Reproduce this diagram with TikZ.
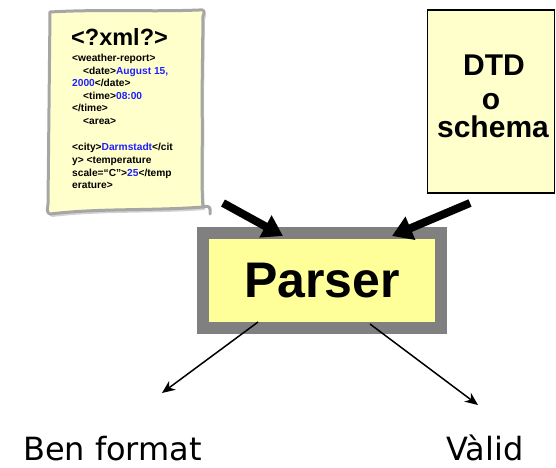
\documentclass[tikz,border=0pt]{standalone}
\usepackage{fontspec}
\setmainfont{Liberation Sans}
\newfontfamily\dejavu{DejaVu Sans}
\usetikzlibrary{arrows.meta,shadows}
\definecolor{paper}{HTML}{FFFFCC}
\definecolor{parserfill}{HTML}{FFFF99}
\definecolor{xmlblue}{HTML}{2020FF}
\tikzset{
  xmlline/.style={anchor=base west, inner sep=0pt, font=\bfseries\fontsize{10.2}{12}\selectfont},
  bigarrow/.style={line width=8pt, -{Triangle[length=20pt,width=24pt]}},
  thinarrow/.style={line width=1.5pt, -{Stealth[length=13pt,width=11pt,inset=4pt]}},
  dtdtext/.style={anchor=base, inner sep=0pt, font=\bfseries\fontsize{30}{30}\selectfont},
  result/.style={anchor=base, inner sep=0pt, font=\dejavu\fontsize{32}{32}\selectfont}
}
\begin{document}
\begin{tikzpicture}[x=1pt,y=-1pt]
\useasboundingbox (0,0) rectangle (556,467);
% note paper
\path[fill=paper, draw=gray!70, line width=3pt, line join=round,
      drop shadow={opacity=0.35, shadow xshift=2pt, shadow yshift=-3pt}]
  (50,12) .. controls (100,9) and (150,12) .. (199,10)
  .. controls (203,9) and (206,11) .. (203,16)
  -- (202,100) .. controls (203,150) and (201,180) .. (203,207)
  .. controls (150,211) and (100,208) .. (50,214)
  .. controls (47,213) and (47,210) .. (48,204) -- cycle;
\draw[gray!70, line width=3pt, line cap=round] (203,207) .. controls (209,205) and (211,207) .. (210,214);
% note text
\node[anchor=base west, inner sep=0pt, font=\bfseries\fontsize{23.5}{23.5}\selectfont] (title) at (71,45) {<?xml?>};
\node[xmlline] (l1) at (72,61) {<weather-report>};
\node[xmlline] (l2) at (83,74) {<date>\textcolor{xmlblue}{August 15,}};
\node[xmlline] (l3) at (72,86) {\textcolor{xmlblue}{2000}</date>};
\node[xmlline] (l4) at (83,99) {<time>\textcolor{xmlblue}{08:00}};
\node[xmlline] (l5) at (72,111) {</time>};
\node[xmlline] (l6) at (83,124) {<area>};
\node[xmlline] (l7) at (72,150) {<city>\textcolor{xmlblue}{Darmstadt}</cit};
\node[xmlline] (l8) at (72,163) {y> <temperature};
\node[xmlline] (l9) at (72,176) {scale=“C”>\textcolor{xmlblue}{25}</temp};
\node[xmlline] (l10) at (72,188) {erature>};
% DTD box
\node[draw=black, line width=1.5pt, fill=paper, minimum width=127pt, minimum height=183pt, inner sep=0pt] (dtd) at (491,101.5) {};
\node[dtdtext] (dtd1) at (494,75) {DTD};
\node[dtdtext] (dtd2) at (491,109) {o};
\node[dtdtext] (dtd3) at (493,137) {schema};
% parser
\node[draw=gray, line width=12pt, fill=parserfill, minimum width=238pt, minimum height=95pt, inner sep=0pt,
      font=\bfseries\fontsize{50}{50}\selectfont] (parser) at (322,280.5) {Parser};
% thick arrows
\coordinate (a1s) at (223,203);
\coordinate (a1e) at (283,236);
\coordinate (a2s) at (470,203);
\coordinate (a2e) at (392,236);
\draw[bigarrow] (a1s) -- (a1e);
\draw[bigarrow] (a2s) -- (a2e);
% results
\coordinate (b1s) at (258,322);
\coordinate (b1e) at (162,393);
\coordinate (b2s) at (370,324);
\coordinate (b2e) at (478,405);
\draw[thinarrow] (b1s) -- (b1e);
\draw[thinarrow] (b2s) -- (b2e);
\node[result] (wf) at (112.5,460) {Ben format};
\node[result] (valid) at (485,460) {Vàlid};
\end{tikzpicture}
\end{document}
